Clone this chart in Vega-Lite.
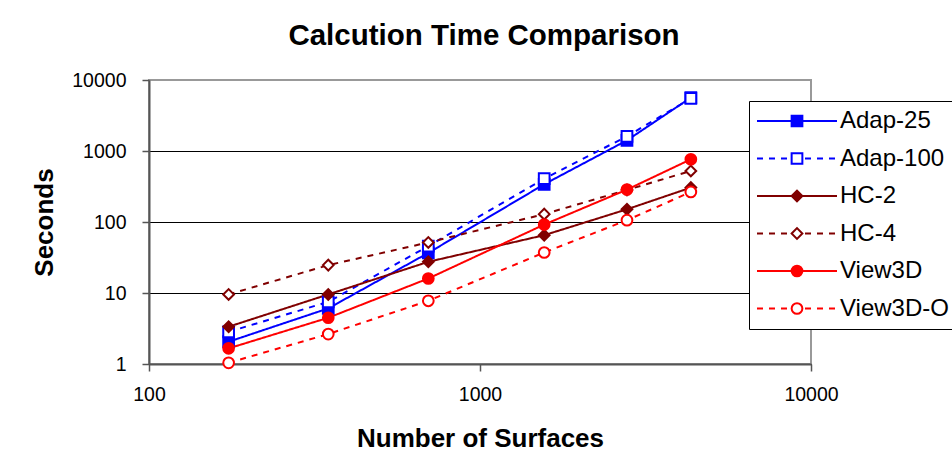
{
  "$schema": "https://vega.github.io/schema/vega-lite/v6.json",
  "width": 662,
  "height": 284,
  "autosize": {"type": "none"},
  "padding": {"left": 149, "top": 80, "right": 141, "bottom": 112},
  "background": "white",
  "title": {
    "text": "Calcution Time Comparison",
    "font": "Liberation Sans",
    "fontSize": 29.5,
    "fontWeight": "bold",
    "color": "black",
    "frame": "group",
    "anchor": "middle",
    "baseline": "alphabetic",
    "offset": -4,
    "dx": 4
  },
  "data": {
    "values": [
      {"series": "Adap-25", "surfaces": 174, "seconds": 2.06},
      {"series": "Adap-25", "surfaces": 348, "seconds": 6.07},
      {"series": "Adap-25", "surfaces": 698, "seconds": 36.7},
      {"series": "Adap-25", "surfaces": 1563, "seconds": 340},
      {"series": "Adap-25", "surfaces": 2780, "seconds": 1413},
      {"series": "Adap-25", "surfaces": 4335, "seconds": 5640},
      {"series": "Adap-100", "surfaces": 174, "seconds": 2.84},
      {"series": "Adap-100", "surfaces": 348, "seconds": 7.5},
      {"series": "Adap-100", "surfaces": 698, "seconds": 45.7},
      {"series": "Adap-100", "surfaces": 1563, "seconds": 408},
      {"series": "Adap-100", "surfaces": 2780, "seconds": 1610},
      {"series": "Adap-100", "surfaces": 4335, "seconds": 5500},
      {"series": "HC-2", "surfaces": 174, "seconds": 3.35},
      {"series": "HC-2", "surfaces": 348, "seconds": 9.55},
      {"series": "HC-2", "surfaces": 698, "seconds": 27.5},
      {"series": "HC-2", "surfaces": 1563, "seconds": 65.2},
      {"series": "HC-2", "surfaces": 2780, "seconds": 151},
      {"series": "HC-2", "surfaces": 4335, "seconds": 305},
      {"series": "HC-4", "surfaces": 174, "seconds": 9.55},
      {"series": "HC-4", "surfaces": 348, "seconds": 24.7},
      {"series": "HC-4", "surfaces": 698, "seconds": 51.5},
      {"series": "HC-4", "surfaces": 1563, "seconds": 129},
      {"series": "HC-4", "surfaces": 2780, "seconds": 283},
      {"series": "HC-4", "surfaces": 4335, "seconds": 524},
      {"series": "View3D", "surfaces": 174, "seconds": 1.66},
      {"series": "View3D", "surfaces": 348, "seconds": 4.48},
      {"series": "View3D", "surfaces": 698, "seconds": 16.0},
      {"series": "View3D", "surfaces": 1563, "seconds": 92},
      {"series": "View3D", "surfaces": 2780, "seconds": 286},
      {"series": "View3D", "surfaces": 4335, "seconds": 764},
      {"series": "View3D-O", "surfaces": 174, "seconds": 1.04},
      {"series": "View3D-O", "surfaces": 348, "seconds": 2.64},
      {"series": "View3D-O", "surfaces": 698, "seconds": 7.77},
      {"series": "View3D-O", "surfaces": 1563, "seconds": 37.2},
      {"series": "View3D-O", "surfaces": 2780, "seconds": 106},
      {"series": "View3D-O", "surfaces": 4335, "seconds": 265}
    ]
  },
  "encoding": {
    "x": {
      "field": "surfaces",
      "type": "quantitative",
      "scale": {"type": "log", "domain": [100, 10000]},
      "axis": {
        "values": [100, 1000, 10000],
        "format": "d",
        "grid": false,
        "domainColor": "#555555",
        "domainWidth": 2,
        "tickColor": "#555555",
        "tickWidth": 1.5,
        "tickSize": 7,
        "labelFont": "Liberation Sans",
        "labelFontSize": 19.5,
        "labelColor": "black",
        "labelPadding": 14,
        "labelFlush": false,
        "title": "Number of Surfaces",
        "titleFont": "Liberation Sans",
        "titleFontSize": 26,
        "titleFontWeight": "bold",
        "titleColor": "black",
        "titleBaseline": "alphabetic",
        "titleY": 82
      }
    },
    "y": {
      "field": "seconds",
      "type": "quantitative",
      "scale": {"type": "log", "domain": [1, 10000]},
      "axis": {
        "values": [1, 10, 100, 1000, 10000],
        "format": "d",
        "grid": true,
        "gridColor": {"condition": {"test": "datum.value >= 10000", "value": "#999999"}, "value": "black"},
        "gridWidth": 1,
        "gridOpacity": 1,
        "domainColor": "#555555",
        "domainWidth": 2,
        "tickColor": "#555555",
        "tickWidth": 1.5,
        "tickSize": 7,
        "labelFont": "Liberation Sans",
        "labelFontSize": 19.5,
        "labelColor": "black",
        "labelPadding": 16,
        "labelFlush": false,
        "title": "Seconds",
        "titleFont": "Liberation Sans",
        "titleFontSize": 26,
        "titleFontWeight": "bold",
        "titleColor": "black",
        "titleBaseline": "alphabetic",
        "titleAngle": -90,
        "titleX": -97
      }
    }
  },
  "layer": [
    {
      "mark": {"type": "line", "strokeWidth": 2},
      "encoding": {
        "color": {
          "field": "series",
          "type": "nominal",
          "scale": {
            "domain": ["Adap-25", "Adap-100", "HC-2", "HC-4", "View3D", "View3D-O"],
            "range": ["#0000FF", "#0000FF", "#800000", "#800000", "#FF0000", "#FF0000"]
          },
          "legend": {
            "orient": "none", "legendX": 600, "legendY": 21, "title": null,
            "symbolType": "M-4,0H4", "symbolSize": 400, "symbolStrokeWidth": 2,
            "labelFont": "Liberation Sans", "labelFontSize": 24, "labelColor": "black",
            "padding": 8, "strokeColor": "black", "fillColor": "white",
            "rowPadding": 13.5, "symbolOffset": 28, "labelOffset": 31
          }
        },
        "strokeDash": {
          "field": "series",
          "type": "nominal",
          "scale": {
            "domain": ["Adap-25", "Adap-100", "HC-2", "HC-4", "View3D", "View3D-O"],
            "range": [[1, 0], [6, 6], [1, 0], [6, 6], [1, 0], [6, 6]]
          },
          "legend": {
            "orient": "none", "legendX": 600, "legendY": 21, "title": null,
            "symbolType": "M-4,0H4", "symbolSize": 400, "symbolStrokeWidth": 2,
            "labelFont": "Liberation Sans", "labelFontSize": 24, "labelColor": "black",
            "padding": 8, "strokeColor": "black", "fillColor": "white",
            "rowPadding": 13.5, "symbolOffset": 28, "labelOffset": 31
          }
        }
      }
    },
    {
      "mark": {"type": "point", "filled": true, "opacity": 1, "size": 115, "strokeWidth": 2},
      "encoding": {
        "shape": {
          "field": "series",
          "type": "nominal",
          "scale": {
            "domain": ["Adap-25", "Adap-100", "HC-2", "HC-4", "View3D", "View3D-O"],
            "range": ["square", "square", "diamond", "diamond", "circle", "circle"]
          },
          "legend": {
            "orient": "none", "legendX": 600, "legendY": 21, "title": null,
            "symbolSize": 115, "symbolStrokeWidth": 2,
            "labelFont": "Liberation Sans", "labelFontSize": 24, "labelExpr": "''",
            "padding": 8, "rowPadding": 13.5, "symbolOffset": 28
          }
        },
        "fill": {
          "field": "series",
          "type": "nominal",
          "scale": {
            "domain": ["Adap-25", "Adap-100", "HC-2", "HC-4", "View3D", "View3D-O"],
            "range": ["#0000FF", "white", "#800000", "white", "#FF0000", "white"]
          },
          "legend": {
            "orient": "none", "legendX": 600, "legendY": 21, "title": null,
            "symbolSize": 115, "symbolStrokeWidth": 2,
            "labelFont": "Liberation Sans", "labelFontSize": 24, "labelExpr": "''",
            "padding": 8, "rowPadding": 13.5, "symbolOffset": 28
          }
        },
        "stroke": {
          "field": "series",
          "type": "nominal",
          "scale": {
            "domain": ["Adap-25", "Adap-100", "HC-2", "HC-4", "View3D", "View3D-O"],
            "range": ["#0000FF", "#0000FF", "#800000", "#800000", "#FF0000", "#FF0000"]
          },
          "legend": {
            "orient": "none", "legendX": 600, "legendY": 21, "title": null,
            "symbolSize": 115, "symbolStrokeWidth": 2,
            "labelFont": "Liberation Sans", "labelFontSize": 24, "labelExpr": "''",
            "padding": 8, "rowPadding": 13.5, "symbolOffset": 28
          }
        }
      }
    }
  ],
  "resolve": {
    "legend": {"color": "independent", "strokeDash": "independent", "shape": "independent", "fill": "independent", "stroke": "independent"}
  },
  "config": {
    "view": {"stroke": "#999999", "strokeWidth": 2}
  }
}
